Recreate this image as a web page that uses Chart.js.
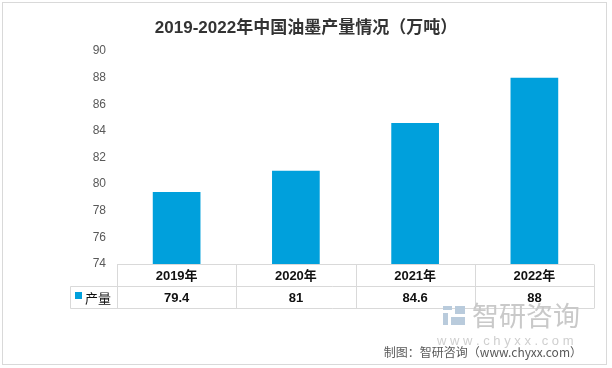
<!DOCTYPE html>
<html><head><meta charset="utf-8">
<script src="https://cdn.jsdelivr.net/npm/chart.js@4/dist/chart.umd.min.js"></script>
<style>html,body{margin:0;padding:0;background:#fff;}#wrap{width:612px;height:368px;position:relative;}</style>
</head><body><div id="wrap"><canvas id="c" width="612" height="368"></canvas></div>
<script>
const titleText = '2019-2022年中国油墨产量情况（万吨）';
const categories = ['2019年', '2020年', '2021年', '2022年'];
const seriesName = '产量';
const values = [79.4, 81, 84.6, 88];
const valueLabels = ['79.4', '81', '84.6', '88'];
const yTicks = [74, 76, 78, 80, 82, 84, 86, 88, 90];
const sourceText = '制图：智研咨询（www.chyxx.com）';
const watermarkText = '智研咨询';
const watermarkUrl = 'w w w . c h y x x . c o m';

const BAR = '#00A0DC';
const FONT = '"Liberation Sans", "Noto Sans CJK SC", sans-serif';
const CJK = '"Noto Sans CJK SC", sans-serif';

const tablePlugin = {
  id: 'tablePlugin',
  beforeDraw(chart) {
    const ctx = chart.ctx;
    ctx.save();
    ctx.fillStyle = '#fff';
    ctx.fillRect(0, 0, chart.width, chart.height);
    ctx.strokeStyle = '#d9d9d9';
    ctx.lineWidth = 1;
    ctx.strokeRect(2.5, 2.5, 604, 362);
    // title
    ctx.fillStyle = '#333333';
    ctx.font = 'bold 17px ' + FONT;
    ctx.textAlign = 'center';
    ctx.textBaseline = 'middle';
    ctx.fillText(titleText, 306, 28);
    ctx.restore();
  },
  afterDraw(chart) {
    const ctx = chart.ctx;
    const x = chart.scales.x;
    const a = chart.chartArea;
    const rowH = 21.5;
    const top = Math.round(a.bottom) + 0.5;
    const mid = Math.round(top + rowH) + 0.5;
    const bot = Math.round(mid + rowH) + 0.5;
    const legendLeft = 70.5;
    ctx.save();
    ctx.strokeStyle = '#d9d9d9';
    ctx.lineWidth = 1;
    ctx.beginPath();
    ctx.moveTo(a.left, top); ctx.lineTo(a.right, top);
    ctx.moveTo(legendLeft, mid); ctx.lineTo(a.right, mid);
    ctx.moveTo(legendLeft, bot); ctx.lineTo(a.right, bot);
    ctx.moveTo(legendLeft, mid); ctx.lineTo(legendLeft, bot);
    const n = categories.length;
    const w = (a.right - a.left) / n;
    for (let i = 0; i <= n; i++) {
      const px = Math.round(a.left + i * w) + 0.5;
      ctx.moveTo(px, top); ctx.lineTo(px, bot);
    }
    ctx.stroke();
    ctx.fillStyle = '#111';
    ctx.textAlign = 'center';
    ctx.textBaseline = 'middle';
    ctx.font = 'bold 13px ' + FONT;
    categories.forEach((c, i) => {
      const cx = x.getPixelForValue(i);
      ctx.fillText(c, cx, (top + mid) / 2 + 1);
      ctx.fillText(valueLabels[i], cx, (mid + bot) / 2 + 1);
    });
    // legend key
    ctx.fillStyle = BAR;
    ctx.fillRect(75, 292, 7, 7);
    ctx.fillStyle = '#111';
    ctx.textAlign = 'left';
    ctx.font = '13px ' + CJK;
    ctx.fillText(seriesName, 85, (mid + bot) / 2 + 1);

    // watermark
    ctx.fillStyle = '#b9cbdc';
    ctx.fillRect(443, 306, 9, 4);
    ctx.fillRect(443, 313, 5, 12);
    ctx.fillRect(455, 306, 10, 8);
    ctx.fillRect(451, 317, 14, 8);
    ctx.fillStyle = '#c9c9c9';
    ctx.font = '27px ' + CJK;
    ctx.textAlign = 'left';
    ctx.textBaseline = 'middle';
    ctx.fillText(watermarkText, 472, 316);
    ctx.font = '13px ' + FONT;
    ctx.fillStyle = '#cfcfcf';
    ctx.fillText(watermarkUrl, 437, 341);

    // source
    ctx.fillStyle = '#595959';
    ctx.font = '12px ' + CJK;
    ctx.textAlign = 'right';
    ctx.fillText(sourceText, 582, 352);
    ctx.restore();
  }
};

new Chart(document.getElementById('c'), {
  type: 'bar',
  data: {
    labels: categories,
    datasets: [{
      label: seriesName,
      data: values,
      backgroundColor: BAR,
      borderWidth: 0,
      barPercentage: 0.4,
      categoryPercentage: 1.0
    }]
  },
  options: {
    responsive: false,
    animation: false,
    devicePixelRatio: 1,
    layout: { padding: { left: 0, right: 18, top: 51, bottom: 104 } },
    plugins: {
      legend: { display: false },
      tooltip: { enabled: false },
      title: { display: false }
    },
    scales: {
      x: { display: false },
      y: {
        min: 74, max: 90,
        afterBuildTicks(scale) { scale.ticks = yTicks.map(v => ({ value: v })); },
        afterFit(scale) { scale.width = 117; },
        border: { display: false },
        grid: { display: false, drawTicks: false },
        ticks: { color: '#595959', padding: 11, font: { family: FONT, size: 12 } }
      }
    }
  },
  plugins: [tablePlugin]
});
</script>
</body></html>
